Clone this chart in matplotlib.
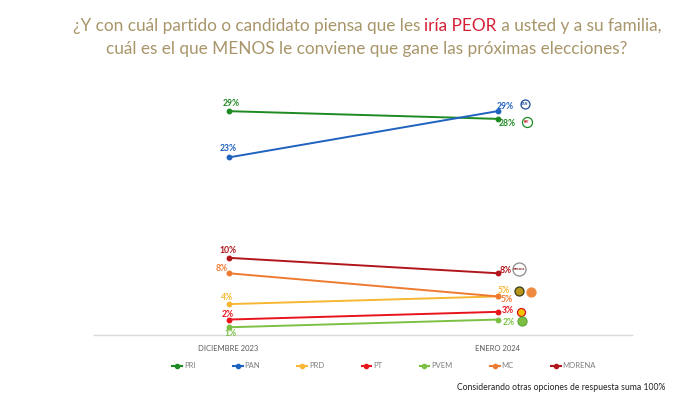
import matplotlib
matplotlib.use("Agg")
import matplotlib.pyplot as plt
from matplotlib.transforms import ScaledTranslation
from matplotlib.lines import Line2D

months = ["DICIEMBRE 2023", "ENERO 2024"]
parties = ["PRI", "PAN", "PRD", "PT", "PVEM", "MC", "MORENA"]
pri = [29, 28]
pan = [23, 29]
prd = [4, 5]
pt = [2, 3]
pvem = [1, 2]
mc = [8, 5]
morena = [10, 8]

series = {"PRI": pri, "PAN": pan, "PRD": prd, "PT": pt, "PVEM": pvem, "MC": mc, "MORENA": morena}
colors = {"PRI": "#1E8A22", "PAN": "#1F62C0", "PRD": "#F7B733", "PT": "#E8141C",
          "PVEM": "#7CC043", "MC": "#EE7A30", "MORENA": "#B0161B"}

# label offsets in pixels (dx, dy) with dy positive = up
dec_off = {"PRI": (3, 8), "PAN": (0, 9), "PRD": (-2, 7), "PT": (-1, 5), "PVEM": (2, -6),
           "MC": (-7, 5), "MORENA": (0, 7)}
jan_off = {"PRI": (10, -5), "PAN": (8, 5), "PRD": (6, 6), "PT": (10, 1), "PVEM": (11, -3),
           "MC": (9, -3), "MORENA": (8, 3)}

plt.rcParams['font.family'] = ['Lato', 'DejaVu Sans']
fig = plt.figure(figsize=(7.0, 3.98), dpi=100)
ax = fig.add_axes([94/700, 63/398, 538/700, 247/398])

x = list(range(len(months)))
for p in parties:
    ax.plot(x, series[p], color=colors[p], lw=1.4, marker='o', ms=3.2, zorder=3)

px = 0.72  # points per pixel
for p in parties:
    v = series[p]
    dx, dy = dec_off[p]
    ax.annotate(f"{v[0]}%", xy=(0, v[0]), xytext=(dx*px, dy*px), textcoords='offset points',
                ha='center', va='center', fontsize=6.2, fontweight='bold', color=colors[p])
    dx, dy = jan_off[p]
    ax.annotate(f"{v[1]}%", xy=(1, v[1]), xytext=(dx*px, dy*px), textcoords='offset points',
                ha='center', va='center', fontsize=6.2, fontweight='bold', color=colors[p])

# party logo approximations (circles) near the last point: dx, dy px, diameter px
logos = {
    "PAN": (27, 7, 9, "white", "#1F4E9E", "PAN", "#1F4E9E"),
    "PRI": (29, -3, 10, "white", "#1E8A22", "PRI", "#C0121E"),
    "MORENA": (21, 4, 13, "white", "#8C8C8C", "morena", "#8A1A1E"),
    "PRD": (21, 5, 9, "#B8961A", "#3A3A1A", "", "#333"),
    "MC": (33, 4, 9, "#EE8A40", "#EE8A40", "", "white"),
    "PT": (23, 0, 8, "#F2C200", "#D8141C", "", "#D8141C"),
    "PVEM": (24, -1, 9, "#7CC043", "#5FA83A", "", "white"),
}
for p, (dx, dy, d, fc, ec, txt, tc) in logos.items():
    v = series[p][1]
    tr = ax.transData + ScaledTranslation(dx/100, dy/100, fig.dpi_scale_trans)
    ax.scatter([1], [v], s=(d*px)**2, facecolor=fc, edgecolor=ec, linewidth=0.9, transform=tr,
               zorder=5, clip_on=False)
    if txt:
        ax.text(1, v, txt, transform=tr, fontsize=2.6, fontweight='bold', color=tc,
                ha='center', va='center', zorder=6, clip_on=False)

ax.set_xlim(-0.5, 1.5)
ax.set_ylim(0, 32)
ax.set_xticks(x)
ax.set_xticklabels(months, fontsize=5.5, color='#595959')
ax.tick_params(axis='x', length=0, pad=7)
ax.set_yticks([])
for s in ['top', 'right', 'left']:
    ax.spines[s].set_visible(False)
ax.spines['bottom'].set_color('#D9D9D9')
ax.spines['bottom'].set_linewidth(1.0)

# legend
handles = [Line2D([0], [0], color=colors[p], lw=1.5, marker='o', ms=3) for p in parties]
leg = fig.legend(handles, parties, loc='center', bbox_to_anchor=(384/700, 1-366/398), ncol=7,
                 frameon=False, fontsize=5.5, handlelength=1.3, handletextpad=0.2,
                 columnspacing=4.9)
for t in leg.get_texts():
    t.set_color('#7F7F7F')

# title
title_col = '#A8966A'
red = '#D51F35'
fs = 12.4
t1a = "¿Y con cuál partido o candidato piensa que les "
t1b = "iría PEOR"
t1c = " a usted y a su familia,"
fig.canvas.draw()
r = fig.canvas.get_renderer()
parts = [(t1a, title_col), (t1b, red), (t1c, title_col)]
tmp = [fig.text(0, 0, s, fontsize=fs) for s, _ in parts]
widths = [tt.get_window_extent(r).width for tt in tmp]
for tt in tmp:
    tt.remove()
total = sum(widths)
xs = 367 - total/2
for (s, c), w in zip(parts, widths):
    fig.text(xs/700, 1-26/398, s, fontsize=fs, color=c, ha='left', va='center')
    xs += w
fig.text(367/700, 1-49/398, "cuál es el que MENOS le conviene que gane las próximas elecciones?",
         fontsize=fs, color=title_col, ha='center', va='center')

fig.text(665/700, 1-387/398, "Considerando otras opciones de respuesta suma 100%",
         fontsize=6.2, color='#222222', ha='right', va='center')

fig.savefig("out.png", dpi=100)
